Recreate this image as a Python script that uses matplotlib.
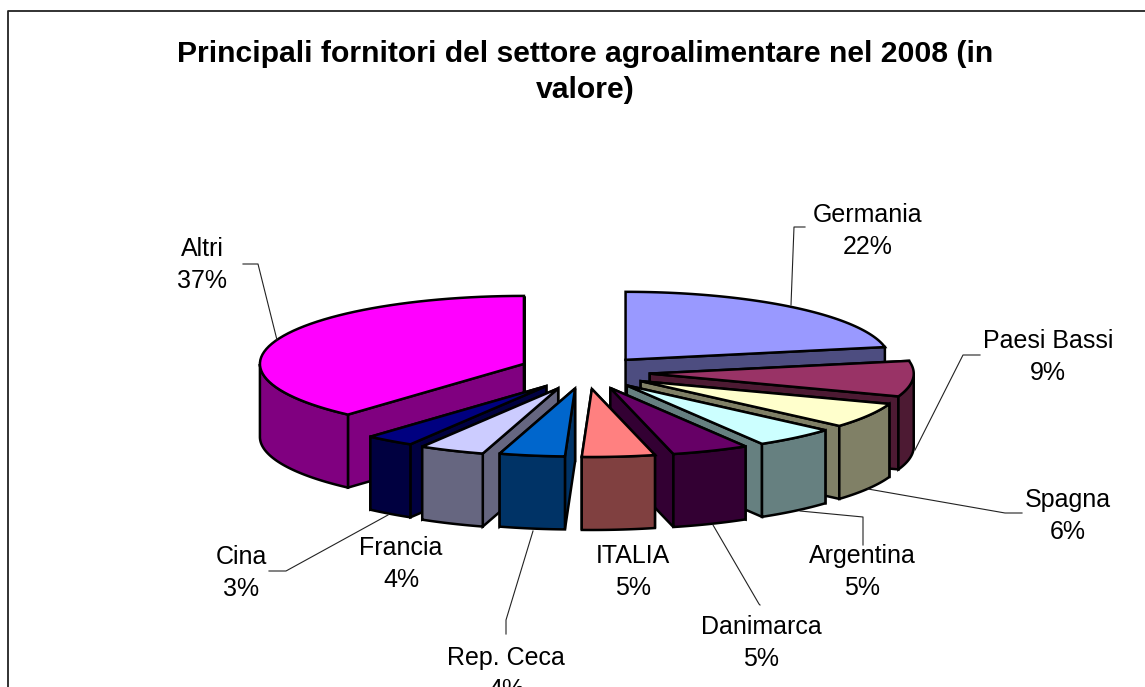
import numpy as np
import matplotlib
matplotlib.use('Agg')
import matplotlib.pyplot as plt
from matplotlib.patches import Polygon

# valori del grafico, in senso orario da ore 12
paesi = ['Germania', 'Paesi Bassi', 'Spagna', 'Argentina', 'Danimarca',
         'ITALIA', 'Rep. Ceca', 'Francia', 'Cina', 'Altri']
quote = [22, 9, 6, 5, 5, 5, 4, 4, 3, 37]
top_colors = ['#9999FF', '#993366', '#FFFFCC', '#CCFFFF', '#660066',
              '#FF8080', '#0066CC', '#CCCCFF', '#000080', '#FF00FF']
side_colors = ['#4D4D80', '#4D1A33', '#808066', '#668080', '#330033',
               '#804040', '#003366', '#666680', '#000040', '#800080']

title = 'Principali fornitori del settore agroalimentare nel 2008 (in\nvalore)'

# layout in pixel
explode = [0.93, 1, 1, 1, 1, 1, 1, 1.1, 1.1, 1.2]
label_xy = [(868, 231), (1048, 357), (1068, 516), (862, 572), (761, 643),
            (633, 572), (506, 674), (401, 564), (241, 573), (202, 265)]
leaders = [[(805, 227), (794, 227), (791, 305)],
           [(980, 355), (963, 355), (915, 450)],
           [(1022, 513), (1005, 513), (868, 489)],
           [(863, 545), (863, 517), (800, 511)],
           [(760, 605), (759, 604), (713, 525)],
           None,
           [(506, 634), (506, 620), (533, 531)],
           None,
           [(269, 571), (286, 571), (388, 515)],
           [(243, 264), (258, 264), (277, 340)]]

cx, cy = 590, 372       # centro della torta
ex, ey = 60, 17         # esplosione
rx, ry = 264, 68        # raggi
depth = 73              # spessore


def warp(a):
    # la prospettiva comprime un po' gli angoli davanti
    return a - np.interp(a, [0, 79, 111, 151, 169, 187, 227, 360],
                         [0, 0, 2, 2, 3, 5, 5, 0])


def to_xy(apex, a):
    t = np.radians(a)
    return apex[0] + rx * np.sin(t), apex[1] - ry * np.cos(t)


fig = plt.figure(figsize=(11.45, 6.87), dpi=100)
ax = fig.add_axes([0, 0, 1, 1])
ax.set_xlim(0, 1145)
ax.set_ylim(687, 0)
ax.axis('off')
plt.rcParams['font.family'] = ['Liberation Sans', 'DejaVu Sans']

# cornice: solo sinistra e alto, il resto e' fuori dall'immagine
ax.plot([8, 8, 1150], [700, 10.5, 10.5], color='#222222', lw=1.3)

edges = np.cumsum([0] + quote) * 3.6
wedges = []
for i in range(len(quote)):
    a0, a1 = warp(edges[i]), warp(edges[i + 1])
    mid = np.radians((edges[i] + edges[i + 1]) / 2)
    apex = (cx + ex * explode[i] * np.sin(mid), cy - ey * explode[i] * np.cos(mid))
    wedges.append((np.cos(mid), i, a0, a1, apex))

# prima le fette lontane, poi quelle vicine
for _, i, a0, a1, apex in sorted(wedges, key=lambda w: -w[0]):
    arc = np.array([to_xy(apex, a) for a in np.linspace(a0, a1, 60)])
    style = dict(edgecolor='black', lw=1.8, joinstyle='miter')
    down = np.array([0, depth])
    ap = np.array(apex)
    # la faccia radiale nascosta va disegnata per prima
    for p in sorted((arc[0], arc[-1]), key=lambda q: q[1]):
        ax.add_patch(Polygon([ap, p, p + down, ap + down],
                             facecolor=side_colors[i], **style))
    # parete esterna: solo la parte davanti
    lo, hi = max(a0, 90), min(a1, 270)
    if hi > lo:
        wall = np.array([to_xy(apex, a) for a in np.linspace(lo, hi, 60)])
        ax.add_patch(Polygon(np.vstack([wall, (wall + down)[::-1]]),
                             facecolor=side_colors[i], **style))
    ax.add_patch(Polygon(np.vstack([ap, arc]), facecolor=top_colors[i], **style))

for path in leaders:
    if path is not None:
        xs, ys = zip(*path)
        ax.plot(xs, ys, color='#222222', lw=0.8)

for name, q, (x, y) in zip(paesi, quote, label_xy):
    ax.text(x, y, f'{name}\n{q}%', ha='center', va='center', fontsize=18,
            linespacing=1.4, color='black')

ax.text(585, 72, title, ha='center', va='center', fontsize=21.7,
        fontweight='bold', linespacing=1.36)

fig.savefig('out.png', dpi=100)
